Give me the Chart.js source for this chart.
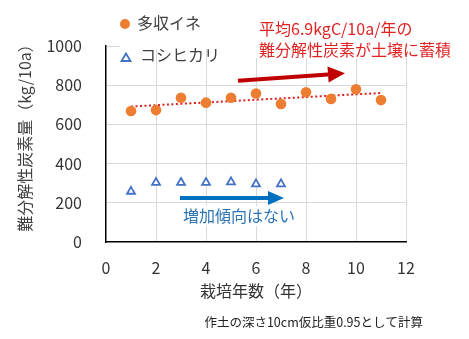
<!DOCTYPE html>
<html><head><meta charset="utf-8">
<script src="https://cdn.jsdelivr.net/npm/chart.js@4"></script>
<style>html,body{margin:0;padding:0;background:#fff}#wrap{width:469px;height:339px}</style>
</head><body><div id="wrap"><canvas id="c" width="469" height="339"></canvas></div>
<script>
// ---- data ----
const years = [1,2,3,4,5,6,7,8,9,10,11];
const tashuIne = [668,673,736,711,736,758,704,764,730,779,724];      // 多収イネ
const koshiYears = [1,2,3,4,5,6,7];
const koshihikari = [258,303,303,303,306,296,296];                   // コシヒカリ
const xTicks = [0,2,4,6,8,10,12];
const yTicks = [0,200,400,600,800,1000];
const seriesNames = ['多収イネ','コシヒカリ'];
const redArrow = [[5.28,823],[9.56,861]];
const blueArrow = [[2.96,224],[7.12,224]];
const redNote = ['平均6.9kgC/10a/年の','難分解性炭素が土壌に蓄積'];
const blueNote = '増加傾向はない';
const footNote = '作土の深さ10cm仮比重0.95として計算';
const xTitle = '栽培年数（年）';
const yTitle = '難分解性炭素量（kg/10a）';

// linear trendline (Excel-style) of 多収イネ
const n = years.length;
const mx = years.reduce((a,b)=>a+b,0)/n, my = tashuIne.reduce((a,b)=>a+b,0)/n;
let sxy=0,sxx=0; years.forEach((x,i)=>{sxy+=(x-mx)*(tashuIne[i]-my); sxx+=(x-mx)*(x-mx);});
const slope = sxy/sxx, icpt = my - slope*mx;
const trend = [years[0], years[n-1]].map(x=>({x, y: icpt+slope*x}));

const FONT = '"Noto Sans CJK JP", "Noto Sans", sans-serif';
const ORANGE = '#ED7D31', BLUE = '#4472C4';

function arrow(ctx, x1,y1,x2,y2,color,w,headL,headW){
  const a = Math.atan2(y2-y1,x2-x1);
  const bx = x2 - headL*Math.cos(a), by = y2 - headL*Math.sin(a);
  ctx.save();
  ctx.strokeStyle=color; ctx.fillStyle=color; ctx.lineWidth=w;
  ctx.beginPath(); ctx.moveTo(x1,y1); ctx.lineTo(bx,by); ctx.stroke();
  ctx.beginPath(); ctx.moveTo(x2,y2);
  ctx.lineTo(bx + headW/2*Math.sin(a), by - headW/2*Math.cos(a));
  ctx.lineTo(bx - headW/2*Math.sin(a), by + headW/2*Math.cos(a));
  ctx.closePath(); ctx.fill();
  ctx.restore();
}

const annot = {
  id:'annot',
  beforeDatasetsDraw(chart){
    const ctx = chart.ctx;
    ctx.save(); ctx.fillStyle='#fff';
    ctx.fillRect(120,40,134,9);    // legend box background
    ctx.fillRect(254,8,210,50);    // red note background
    ctx.fillRect(180,206,122,20);  // blue note background
    ctx.restore();
  },
  afterDatasetsDraw(chart){
    const ctx = chart.ctx, xs = chart.scales.x, ys = chart.scales.y;
    const P = p => [xs.getPixelForValue(p[0]), ys.getPixelForValue(p[1])];
    const r0=P(redArrow[0]), r1=P(redArrow[1]);
    arrow(ctx, r0[0],r0[1],r1[0],r1[1],'#C00000',4,17,16);
    const b0=P(blueArrow[0]), b1=P(blueArrow[1]);
    arrow(ctx, b0[0],b0[1],b1[0],b1[1],'#0070C0',4,16,14);
    ctx.save();
    ctx.textBaseline='middle'; ctx.textAlign='left';
    ctx.font = '16px '+FONT;
    ctx.fillStyle='#E02424';
    ctx.fillText(redNote[0], 259, 29);
    ctx.fillText(redNote[1], 259, 50);
    ctx.fillStyle='#2E75B6';
    ctx.fillText(blueNote, 183, 216);
    // legend
    const ds = chart.data.datasets;
    ctx.fillStyle='#404040';
    ctx.fillText(ds[0].label, 137, 23);
    ctx.fillText(ds[1].label, 140, 55);
    ctx.beginPath(); ctx.arc(125,24,5,0,Math.PI*2); ctx.fillStyle=ORANGE; ctx.fill();
    ctx.beginPath(); ctx.moveTo(126,53.5); ctx.lineTo(130.5,61); ctx.lineTo(121.5,61); ctx.closePath();
    ctx.fillStyle='#fff'; ctx.fill(); ctx.strokeStyle=BLUE; ctx.lineWidth=1.8; ctx.stroke();
    // y axis title
    ctx.save();
    ctx.translate(25, 134); ctx.rotate(-Math.PI/2);
    ctx.textAlign='center'; ctx.font='16px '+FONT; ctx.fillStyle='#404040';
    ctx.fillText(yTitle, 0, 0);
    ctx.restore();
    // footnote
    ctx.font = '12.5px '+FONT; ctx.fillStyle='#222';
    ctx.textAlign='right';
    ctx.fillText(footNote, 423, 322);
    ctx.restore();
  }
};

new Chart(document.getElementById('c'), {
  type:'scatter',
  data:{ datasets:[
    { label:seriesNames[0], data: years.map((x,i)=>({x, y:tashuIne[i]})),
      pointStyle:'circle', pointRadius:5.3, pointHoverRadius:5.3,
      backgroundColor:ORANGE, borderColor:ORANGE, borderWidth:0, order:1 },
    { label:seriesNames[1], data: koshiYears.map((x,i)=>({x, y:koshihikari[i]})),
      pointStyle:'triangle', pointRadius:4.6, pointHoverRadius:4.6,
      backgroundColor:'#fff', borderColor:BLUE, borderWidth:1.8, order:1 },
    { label:'trend', type:'line', data: trend, showLine:true, pointRadius:0,
      borderColor:'#E0201C', borderWidth:2, borderDash:[2,2.5], fill:false, order:2 }
  ]},
  options:{
    responsive:false, animation:false, devicePixelRatio:1,
    layout:{ padding:{ top:46, right:63, left:0, bottom:0 } },
    plugins:{ legend:{display:false}, tooltip:{enabled:false} },
    scales:{
      x:{ type:'linear', min:0, max:12,
        afterBuildTicks: s => { s.ticks = xTicks.map(v=>({value:v})); },
        afterFit: s => { s.height = 97; },
        grid:{ color: c => c.tick && c.tick.value===0 ? 'transparent' : '#D9D9D9', lineWidth:1, drawTicks:false },
        border:{ color:'#000', width:1.5 },
        ticks:{ padding:16, color:'#333', font:{family:FONT, size:16}, callback: v => String(v) },
        title:{ display:true, text:xTitle, color:'#333', font:{family:FONT, size:16}, padding:{top:0,bottom:38} }
      },
      y:{ type:'linear', min:0, max:1000,
        afterBuildTicks: s => { s.ticks = yTicks.map(v=>({value:v})); },
        afterFit: s => { s.width = 106; },
        grid:{ color: c => c.tick && c.tick.value===0 ? 'transparent' : '#D9D9D9', lineWidth:1, drawTicks:false },
        border:{ color:'#000', width:1.5 },
        ticks:{ padding:24, color:'#333', font:{family:FONT, size:16}, callback: v => String(v) },
        title:{ display:false, text:yTitle }
      }
    }
  },
  plugins:[annot]
});
</script></body></html>
